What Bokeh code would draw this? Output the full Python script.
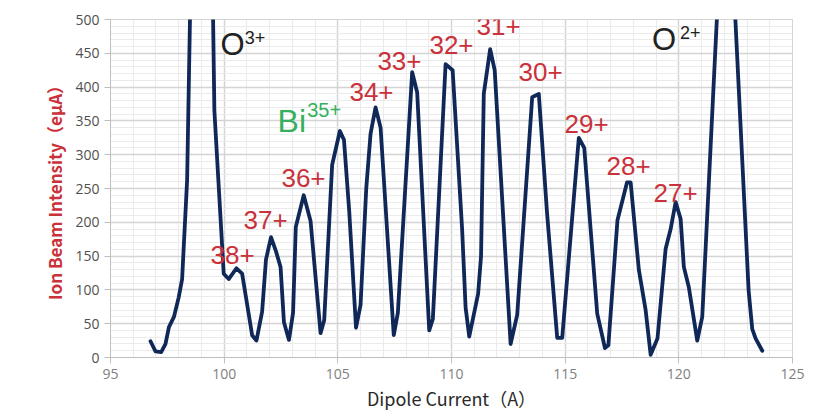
from bokeh.plotting import figure
from bokeh.models import (ColumnDataSource, SingleIntervalTicker, Range1d, Label)
from bokeh.embed import file_html
from bokeh.resources import INLINE

# ---- data ----
dipole_current = [96.76, 96.98, 97.23, 97.42, 97.57, 97.79, 98.0, 98.15, 98.37, 99.06,
                  99.57, 99.98, 100.2, 100.54, 100.79, 101.1, 101.23, 101.42, 101.67, 101.84,
                  102.06, 102.28, 102.48, 102.63, 102.85, 103.03, 103.15, 103.5, 103.8, 104.24,
                  104.4, 104.75, 105.09, 105.27, 105.5, 105.8, 106.0, 106.25, 106.44, 106.66,
                  106.88, 107.46, 107.64, 108.27, 108.49, 109.02, 109.18, 109.74, 110.05, 110.47,
                  110.62, 110.78, 111.17, 111.3, 111.42, 111.7, 111.9, 112.6, 112.89, 113.55,
                  113.84, 114.2, 114.65, 114.87, 115.6, 115.84, 116.41, 116.75, 116.9, 117.3,
                  117.72, 117.88, 118.24, 118.54, 118.76, 119.06, 119.42, 119.64, 119.86, 120.08,
                  120.22, 120.44, 120.81, 121.03, 122.08, 123.07, 123.23, 123.38, 123.67]
beam_intensity = [24, 9, 8, 20, 45, 60, 89, 116, 262, 1570,
                  365, 124, 116, 132, 124, 60, 33, 25, 68, 145,
                  178, 157, 134, 52, 26, 66, 193, 240, 202, 36,
                  55, 285, 335, 322, 217, 44, 78, 250, 331, 370,
                  340, 33, 66, 422, 392, 40, 57, 434, 425, 188,
                  74, 31, 94, 150, 390, 456, 425, 20, 63, 385,
                  390, 215, 29, 29, 325, 310, 65, 14, 18, 203,
                  259, 259, 130, 70, 4, 28, 161, 190, 230, 205,
                  134, 104, 25, 60, 780, 99, 42, 28, 10]

bi_labels = ["38+", "37+", "36+", "34+", "33+", "32+", "31+", "30+", "29+", "28+", "27+"]
bi_label_x = [100.37, 101.82, 103.49, 106.48, 107.71, 110.0, 112.07, 113.92, 115.94, 117.79, 119.86]
bi_label_y = [151, 203, 265, 393, 439, 462, 490, 422, 345, 284, 244]

RED = "#c9323a"
GREEN = "#35b05c"
NAVY = "#0f2858"

p = figure(width=826, height=414, output_backend="svg", toolbar_location=None,
           x_range=Range1d(95, 125), y_range=Range1d(0, 500),
           min_border_left=110, min_border_right=34, min_border_top=19, min_border_bottom=57)

p.line(x="x", y="y", source=ColumnDataSource(dict(x=dipole_current, y=beam_intensity)),
       line_color=NAVY, line_width=3.8, line_join="round", line_cap="round")

p.text(x=bi_label_x, y=bi_label_y, text=bi_labels, text_color=RED,
       text_font_size="26px", text_align="center", text_baseline="middle",
       text_font={"value": "Liberation Sans"})

p.add_layout(Label(x=99.84, y=463, text="O", text_color="#222222", text_font_size="31px",
                   text_baseline="middle", text_font="Liberation Sans"))
p.add_layout(Label(x=100.9, y=473, text="3+", text_color="#222222", text_font_size="18px",
                   text_baseline="middle", text_font="Liberation Sans"))
p.add_layout(Label(x=102.35, y=350, text="Bi", text_color=GREEN, text_font_size="32px",
                   text_baseline="middle", text_font="Liberation Sans"))
p.add_layout(Label(x=103.65, y=366, text="35+", text_color=GREEN, text_font_size="20px",
                   text_baseline="middle", text_font="Liberation Sans"))
p.add_layout(Label(x=118.82, y=471, text="O", text_color="#222222", text_font_size="31px",
                   text_baseline="middle", text_font="Liberation Sans"))
p.add_layout(Label(x=120.05, y=481, text="2+", text_color="#222222", text_font_size="18px",
                   text_baseline="middle", text_font="Liberation Sans"))

p.xaxis.ticker = SingleIntervalTicker(interval=5, num_minor_ticks=5)
p.yaxis.ticker = SingleIntervalTicker(interval=50, num_minor_ticks=5)

for ax in (p.xaxis[0], p.yaxis[0]):
    ax.axis_line_color = "#bfbfbf"
    ax.major_tick_line_color = "#bfbfbf"
    ax.major_tick_out = 6
    ax.major_tick_in = 0
    ax.minor_tick_line_color = None
    ax.major_label_text_font = "Open Sans"
    ax.major_label_text_font_size = "14px"
    ax.major_label_standoff = 5

p.yaxis.major_label_text_color = "#505050"
p.xaxis.major_label_text_color = "#808080"

p.yaxis.axis_label = "Ion Beam Intensity（eμA）"
p.yaxis.axis_label_text_color = RED
p.yaxis.axis_label_text_font = "Noto Sans CJK SC"
p.yaxis.axis_label_text_font_style = "bold"
p.yaxis.axis_label_text_font_size = "17px"
p.yaxis.axis_label_standoff = 5

p.xaxis.axis_label = "Dipole Current（A）"
p.xaxis.axis_label_text_color = "#2a2a2a"
p.xaxis.axis_label_text_font = "Noto Sans CJK SC"
p.xaxis.axis_label_text_font_style = "normal"
p.xaxis.axis_label_text_font_size = "18px"
p.xaxis.axis_label_standoff = 3

for g in (p.xgrid[0], p.ygrid[0]):
    g.grid_line_color = "#d4d4d4"
    g.grid_line_width = 1.5
    g.minor_grid_line_color = "#ebebeb"
    g.minor_grid_line_width = 1

p.outline_line_color = "#d4d4d4"
p.background_fill_color = "white"

open("out.html", "w").write(file_html(p, INLINE))
